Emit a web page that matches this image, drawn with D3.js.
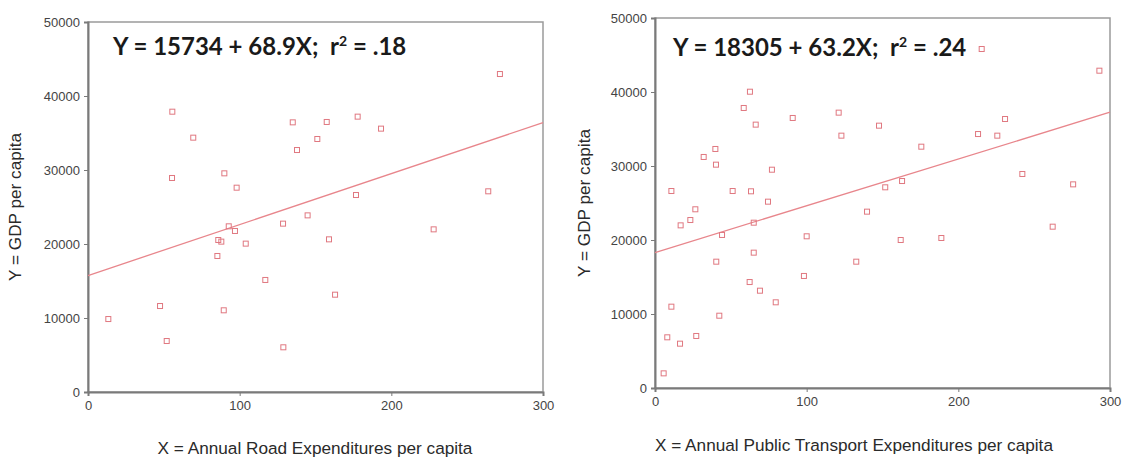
<!DOCTYPE html>
<html>
<head>
<meta charset="utf-8">
<script src="https://cdn.jsdelivr.net/npm/d3@7"></script>
<style>
  body { margin: 0; background: #fff; }
  svg { display: block; }
  .tick text { font-family: "Liberation Sans", Arial, sans-serif; font-size: 13px; fill: #444; }
  .title { font-family: "Liberation Sans", Arial, sans-serif; font-size: 17.2px; fill: #2a2a2a; }
  .eq { font-family: Lato, "Open Sans", sans-serif; font-weight: bold; font-size: 24px; fill: #1a1a1a; white-space: pre; }
</style>
</head>
<body>
<script>
// road expenditures panel
var roadX = [55.6, 69.4, 135.0, 151.2, 137.8, 55.4, 89.9, 98.0, 144.8, 128.6, 92.8, 96.9, 85.9, 87.9, 104.0, 85.3,
  116.9, 47.5, 13.4, 89.5, 51.9, 128.8, 271.6, 157.4, 177.8, 193.2, 176.7, 263.9, 227.9, 158.9, 162.9];
var roadY = [37880, 34370, 36440, 34190, 32700, 28920, 29550, 27610, 23870, 22750, 22390, 21760, 20540, 20320, 20050, 18380,
  15140, 11620, 9860, 11040, 6890, 6040, 42970, 36490, 37210, 35590, 26620, 27120, 21980, 20630, 13150];

// public transport panel
var transitX = [62.6, 58.5, 66.4, 90.8, 121.1, 122.9, 147.7, 39.8, 32.1, 40.2, 77.1, 10.8, 51.2, 63.3, 74.5, 26.6,
  23.3, 16.9, 65.1, 44.2, 100.0, 139.8, 40.4, 65.1, 132.7, 62.4, 69.2, 98.2, 79.6, 10.8, 42.4, 8.1,
  16.5, 27.2, 5.7, 215.4, 293.0, 230.8, 213.0, 225.7, 175.6, 151.8, 162.9, 242.2, 275.7, 262.2, 162.0, 188.8];
var transitY = [40040, 37840, 35590, 36490, 37210, 34100, 35450, 32300, 31220, 30180, 29500, 26620, 26620, 26580, 25180, 24150,
  22700, 21980, 22340, 20680, 20500, 23830, 17070, 18290, 17070, 14320, 13150, 15140, 11580, 10990, 9770, 6850,
  5990, 7030, 1980, 45810, 42880, 36350, 34320, 34100, 32610, 27120, 27970, 28920, 27520, 21800, 20000, 20270];

var xTicks = [0, 100, 200, 300];
var yTicks = [0, 10000, 20000, 30000, 40000, 50000];
var intercepts = [15734, 18305];
var slopes = [68.9, 63.2];
var eqHead = ["Y = 15734 + 68.9X;  r", "Y = 18305 + 63.2X;  r"];
var eqTail = [" = .18", " = .24"];
var xTitles = ["X = Annual Road Expenditures per capita", "X = Annual Public Transport Expenditures per capita"];
var yTitle = "Y = GDP per capita";

var svg = d3.select("body").append("svg").attr("width", 1124).attr("height", 457);

var panels = [
  { xs: roadX, ys: roadY, left: 88, right: 543, top: 22, bottom: 392, ytx: 21, xtc: 315, xty: 454, eqx: 113, eqy: 55 },
  { xs: transitX, ys: transitY, left: 655, right: 1110, top: 18, bottom: 388, ytx: 590, xtc: 854, xty: 451, eqx: 673, eqy: 56 }
];

panels.forEach(function(p, i) {
  var x = d3.scaleLinear().domain([0, 300]).range([p.left, p.right]);
  var y = d3.scaleLinear().domain([0, 50000]).range([p.bottom, p.top]);
  var g = svg.append("g");

  // frame
  g.append("rect")
    .attr("x", p.left).attr("y", p.top)
    .attr("width", p.right - p.left).attr("height", p.bottom - p.top)
    .attr("fill", "none").attr("stroke", "#9a9a9a").attr("stroke-width", 1.5);

  var yAxis = g.append("g").attr("transform", "translate(" + p.left + ",0)")
    .call(d3.axisLeft(y).tickValues(yTicks).tickSize(4).tickPadding(4).tickFormat(d3.format("d")));
  var xAxis = g.append("g").attr("transform", "translate(0," + p.bottom + ")")
    .call(d3.axisBottom(x).tickValues(xTicks).tickSize(4).tickPadding(5).tickFormat(d3.format("d")));
  [yAxis, xAxis].forEach(function(a) {
    a.select(".domain").attr("stroke", "#7a7a7a").attr("stroke-width", 2);
    a.selectAll(".tick line").attr("stroke", "#7a7a7a");
  });

  // fit line
  var b0 = intercepts[i], b1 = slopes[i];
  g.append("line")
    .attr("x1", x(0)).attr("y1", y(b0))
    .attr("x2", x(300)).attr("y2", y(b0 + b1 * 300))
    .attr("stroke", "#e8868c").attr("stroke-width", 1.3);

  // points
  g.selectAll("rect.pt").data(p.xs).enter().append("rect")
    .attr("class", "pt")
    .attr("x", function(d) { return x(d) - 2.5; })
    .attr("y", function(d, j) { return y(p.ys[j]) - 2.5; })
    .attr("width", 5).attr("height", 5)
    .attr("fill", "none").attr("stroke", "#e07880").attr("stroke-width", 1);

  // equation
  var eq = g.append("text").attr("class", "eq").attr("x", p.eqx).attr("y", p.eqy);
  eq.append("tspan").text(eqHead[i]);
  eq.append("tspan").attr("font-size", "14px").attr("dy", -9).text("2");
  eq.append("tspan").attr("dy", 9).text(eqTail[i]);

  // axis titles
  g.append("text").attr("class", "title")
    .attr("text-anchor", "middle")
    .attr("x", p.xtc).attr("y", p.xty)
    .text(xTitles[i]);
  g.append("text").attr("class", "title")
    .attr("text-anchor", "middle")
    .attr("transform", "translate(" + p.ytx + "," + ((p.top + p.bottom) / 2) + ") rotate(-90)")
    .text(yTitle);
});
</script>
</body>
</html>
